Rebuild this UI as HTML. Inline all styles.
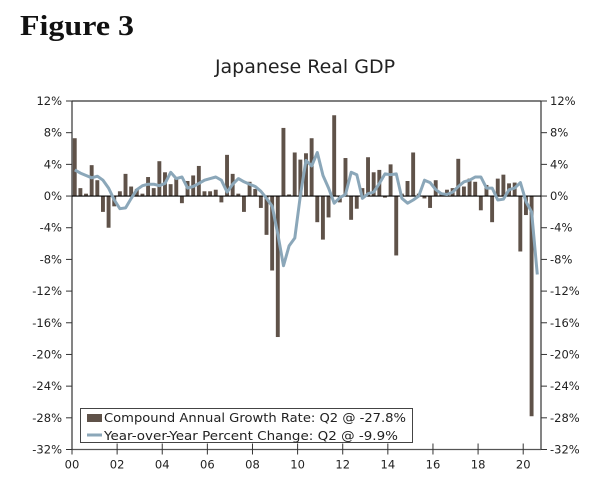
<!DOCTYPE html>
<html><head><meta charset="utf-8"><style>
html,body{margin:0;padding:0;background:#fff;width:600px;height:482px;overflow:hidden}
svg text{font-family:"DejaVu Sans","Liberation Sans",sans-serif}
</style></head><body>
<svg id="chart" width="600" height="482" viewBox="0 0 600 482" xmlns="http://www.w3.org/2000/svg">
<text x="20" y="35" style="font-family:'Liberation Serif',serif" font-weight="bold" font-size="29" fill="#111" textLength="114" lengthAdjust="spacingAndGlyphs">Figure 3</text>
<text x="305" y="73" text-anchor="middle" font-size="19" fill="#222">Japanese Real GDP</text>
<g id="plot"></g>
</svg>
<script>
const barValues=[7.3,1.0,0.3,3.9,2.0,-2.0,-4.0,-1.3,0.6,2.8,1.2,0.9,0.3,2.4,1.0,4.4,3.0,1.5,2.2,-0.9,1.9,2.6,3.8,0.6,0.6,0.8,-0.8,5.2,2.8,0.3,-2.0,1.8,0.9,-1.5,-4.9,-9.4,-17.8,8.6,0.2,5.5,4.6,5.4,7.3,-3.3,-5.5,-2.7,10.2,-0.8,4.8,-3.0,-1.6,1.0,4.9,3.0,3.3,-0.2,4.0,-7.5,0.3,1.9,5.5,0.3,-0.3,-1.5,2.0,0.3,0.8,1.0,4.7,1.2,2.2,1.8,-1.8,1.4,-3.3,2.2,2.7,1.6,1.7,-7.0,-2.4,-27.8];
const yoyValues=[3.3,2.9,2.6,2.3,2.5,2.0,1.0,-0.5,-1.6,-1.5,-0.3,0.8,1.3,1.5,1.5,1.3,1.6,3.0,2.2,2.4,1.0,1.2,1.6,2.0,2.2,2.4,2.0,0.5,1.5,2.2,1.8,1.5,1.2,0.6,-0.3,-1.3,-4.8,-8.8,-6.3,-5.3,0.1,4.5,3.8,5.5,2.6,1.0,-0.9,-0.2,0.2,3.0,2.7,-0.3,0.3,0.5,1.6,2.8,2.7,2.8,-0.3,-0.9,-0.5,0.0,2.0,1.7,0.8,0.3,0.2,0.5,1.2,1.8,2.0,2.4,2.4,1.0,1.0,-0.5,-0.4,0.8,1.0,1.7,-0.7,-2.0,-9.9];
const yTicks=[12,8,4,0,-4,-8,-12,-16,-20,-24,-28,-32];
const xTickLabels=["00","02","04","06","08","10","12","14","16","18","20"];
const NS="http://www.w3.org/2000/svg";
const L=72,R=541,T=101,yMax=12,yMin=-32,B=449.5;
const qW=5.64;
const y=v=>T+(yMax-v)*(B-T)/(yMax-yMin);
const xq=i=>L+qW*i;
const g=document.getElementById('plot');
function mk(tag,attrs){const e=document.createElementNS(NS,tag);for(const k in attrs)e.setAttribute(k,attrs[k]);g.appendChild(e);return e;}
let e;
e=mk('line',{x1:L,y1:T,x2:R,y2:T,stroke:'#333','stroke-width':1.2});


e=mk('line',{x1:L,y1:T,x2:L,y2:B,stroke:'#333','stroke-width':1.2});


e=mk('line',{x1:R,y1:T,x2:R,y2:B,stroke:'#333','stroke-width':1.2});


e=mk('line',{x1:L,y1:B,x2:R,y2:B,stroke:'#555','stroke-width':1.2});


yTicks.forEach(t=>{
 const yy=y(t);
 e=mk('line',{x1:L-6,y1:yy,x2:L,y2:yy,stroke:'#333','stroke-width':1});
 
 
 e=mk('line',{x1:R,y1:yy,x2:R+6,y2:yy,stroke:'#333','stroke-width':1});
 
 
 e=mk('text',{x:L-10,y:yy+4,'text-anchor':'end','font-size':11.5,fill:'#222'});e.textContent=t+'%';
 
 
 e=mk('text',{x:R+9,y:yy+4,'font-size':11.5,fill:'#222'});e.textContent=t+'%';
 
 
});
xTickLabels.forEach((lab,k)=>{
 const xx=xq(k*8);
 e=mk('line',{x1:xx,y1:B-6,x2:xx,y2:B+5,stroke:'#333','stroke-width':1});
 
 
 e=mk('text',{x:xx,y:B+19,'text-anchor':'middle','font-size':11.5,fill:'#222'});e.textContent=lab;
 
 
});
barValues.forEach((v,i)=>{
 const y0=y(0),yv=y(v);
 e=mk('rect',{x:xq(i)+0.8,y:Math.min(y0,yv),width:3.9,height:Math.max(0.6,Math.abs(yv-y0)),fill:'#5f5249'});
 
 
});
e=mk('line',{x1:L,y1:y(0),x2:R,y2:y(0),stroke:'#000','stroke-width':1.2});


const pts=yoyValues.map((v,i)=>(xq(i)+2.8).toFixed(1)+','+y(v).toFixed(1)).join(' ');
e=mk('polyline',{points:pts,fill:'none',stroke:'#8ba7b9','stroke-width':3,'stroke-linejoin':'round'});


e=mk('rect',{x:80.5,y:408.5,width:332,height:34,fill:'#fff',stroke:'#444','stroke-width':1});


e=mk('rect',{x:87,y:414,width:15,height:8,fill:'#5f5249'});


e=mk('text',{x:104,y:422,'font-size':12.5,fill:'#222',textLength:302,lengthAdjust:'spacingAndGlyphs'});e.textContent='Compound Annual Growth Rate: Q2 @ -27.8%';


e=mk('line',{x1:87,y1:435,x2:102,y2:435,stroke:'#8ba7b9','stroke-width':3});


e=mk('text',{x:104,y:440,'font-size':12.5,fill:'#222',textLength:294,lengthAdjust:'spacingAndGlyphs'});e.textContent='Year-over-Year Percent Change: Q2 @ -9.9%';


</script>
</body></html>
